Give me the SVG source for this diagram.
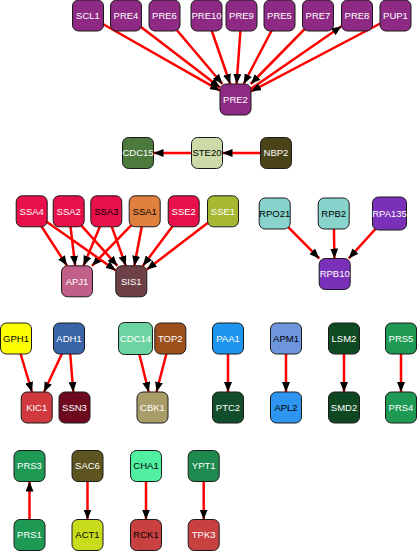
<svg xmlns="http://www.w3.org/2000/svg" width="417" height="551" viewBox="0 0 417 551">
<style>
.n rect{stroke:#1a1a1a;stroke-width:1}
.n text{font-family:"Liberation Sans",Arial,sans-serif;font-size:9.5px;text-anchor:middle;fill:#fff}
.n.dk text{fill:#000}
.e line{stroke:#ff0000;stroke-width:2.5;marker-end:url(#ah)}
</style>
<defs>
<marker id="ah" markerUnits="userSpaceOnUse" markerWidth="10" markerHeight="8" refX="10" refY="4" orient="auto"><path d="M0,0 L10,4 L0,8 z" fill="#000"/></marker>
</defs>
<rect width="417" height="551" fill="#fff"/>
<g id="edges" class="e">
<line x1="88" y1="15.5" x2="220" y2="90.7"/>
<line x1="126" y1="15.5" x2="220" y2="87.6"/>
<line x1="164.5" y1="15.5" x2="222.4" y2="84"/>
<line x1="206.5" y1="15.5" x2="230.2" y2="84"/>
<line x1="241.5" y1="15.5" x2="236.6" y2="84"/>
<line x1="279.5" y1="15.5" x2="243.6" y2="84"/>
<line x1="318" y1="15.5" x2="250.7" y2="84"/>
<line x1="235.5" y1="99.5" x2="341.5" y2="26.2"/>
<line x1="395.5" y1="15.5" x2="251" y2="91.4"/>
<line x1="276" y1="153" x2="222.5" y2="153"/>
<line x1="207" y1="153" x2="153.5" y2="153"/>
<line x1="31.7" y1="211.3" x2="67" y2="265.8"/>
<line x1="68.7" y1="211.3" x2="75.2" y2="265.8"/>
<line x1="106.3" y1="211.3" x2="83.5" y2="265.8"/>
<line x1="144.7" y1="211.3" x2="92" y2="265.8"/>
<line x1="31.7" y1="211.3" x2="115.8" y2="270.4"/>
<line x1="68.7" y1="211.3" x2="117.4" y2="265.8"/>
<line x1="106.3" y1="211.3" x2="125.8" y2="265.8"/>
<line x1="144.7" y1="211.3" x2="134.3" y2="265.8"/>
<line x1="183.7" y1="211.3" x2="142.9" y2="265.8"/>
<line x1="223" y1="211.3" x2="146.8" y2="269.5"/>
<line x1="274.7" y1="213.5" x2="319.3" y2="258.5"/>
<line x1="333.7" y1="213.5" x2="334.4" y2="258.5"/>
<line x1="389.5" y1="213.5" x2="348.7" y2="258.5"/>
<line x1="16" y1="338.5" x2="32" y2="392"/>
<line x1="69" y1="338.5" x2="44" y2="392"/>
<line x1="69" y1="338.5" x2="73.3" y2="392"/>
<line x1="135.5" y1="338.5" x2="148.7" y2="392"/>
<line x1="170.3" y1="338.5" x2="156.5" y2="392"/>
<line x1="228" y1="338.5" x2="228" y2="392"/>
<line x1="286" y1="338.5" x2="286" y2="392"/>
<line x1="344" y1="338.5" x2="344" y2="392"/>
<line x1="401" y1="338.5" x2="401" y2="392"/>
<line x1="29.5" y1="535" x2="29.5" y2="481.5"/>
<line x1="87.5" y1="466" x2="87.5" y2="519.5"/>
<line x1="146" y1="466" x2="146" y2="519.5"/>
<line x1="203.7" y1="466" x2="203.7" y2="519.5"/>
</g>
<g id="SCL1" class="n"><rect x="72.5" y="0" width="31" height="31" rx="6" fill="#8e2a84"/><text x="88" y="18.8">SCL1</text></g>
<g id="PRE4" class="n"><rect x="110.5" y="0" width="31" height="31" rx="6" fill="#8e2a84"/><text x="126" y="18.8">PRE4</text></g>
<g id="PRE6" class="n"><rect x="149" y="0" width="31" height="31" rx="6" fill="#8e2a84"/><text x="164.5" y="18.8">PRE6</text></g>
<g id="PRE10" class="n"><rect x="191" y="0" width="31" height="31" rx="6" fill="#8e2a84"/><text x="206.5" y="18.8">PRE10</text></g>
<g id="PRE9" class="n"><rect x="226" y="0" width="31" height="31" rx="6" fill="#8e2a84"/><text x="241.5" y="18.8">PRE9</text></g>
<g id="PRE5" class="n"><rect x="264" y="0" width="31" height="31" rx="6" fill="#8e2a84"/><text x="279.5" y="18.8">PRE5</text></g>
<g id="PRE7" class="n"><rect x="302.5" y="0" width="31" height="31" rx="6" fill="#8e2a84"/><text x="318" y="18.8">PRE7</text></g>
<g id="PRE8" class="n"><rect x="341.5" y="0" width="31" height="31" rx="6" fill="#8e2a84"/><text x="357" y="18.8">PRE8</text></g>
<g id="PUP1" class="n"><rect x="380" y="0" width="31" height="31" rx="6" fill="#8e2a84"/><text x="395.5" y="18.8">PUP1</text></g>
<g id="PRE2" class="n"><rect x="220" y="84" width="31" height="31" rx="6" fill="#8e2a84"/><text x="235.5" y="102.8">PRE2</text></g>
<g id="CDC15" class="n"><rect x="122.5" y="137.5" width="31" height="31" rx="6" fill="#4c7a3c"/><text x="138" y="156.3">CDC15</text></g>
<g id="STE20" class="n dk"><rect x="191.5" y="137.5" width="31" height="31" rx="6" fill="#ccdaa8"/><text x="207" y="156.3">STE20</text></g>
<g id="NBP2" class="n"><rect x="260.5" y="137.5" width="31" height="31" rx="6" fill="#4a4218"/><text x="276" y="156.3">NBP2</text></g>
<g id="SSA4" class="n"><rect x="16.2" y="195.8" width="31" height="31" rx="6" fill="#e8104a"/><text x="31.7" y="214.6">SSA4</text></g>
<g id="SSA2" class="n"><rect x="53.2" y="195.8" width="31" height="31" rx="6" fill="#e8104a"/><text x="68.7" y="214.6">SSA2</text></g>
<g id="SSA3" class="n dk"><rect x="90.8" y="195.8" width="31" height="31" rx="6" fill="#e8104a"/><text x="106.3" y="214.6">SSA3</text></g>
<g id="SSA1" class="n dk"><rect x="129.2" y="195.8" width="31" height="31" rx="6" fill="#e0803e"/><text x="144.7" y="214.6">SSA1</text></g>
<g id="SSE2" class="n"><rect x="168.2" y="195.8" width="31" height="31" rx="6" fill="#e8104a"/><text x="183.7" y="214.6">SSE2</text></g>
<g id="SSE1" class="n"><rect x="207.5" y="195.8" width="31" height="31" rx="6" fill="#a6b832"/><text x="223" y="214.6">SSE1</text></g>
<g id="APJ1" class="n"><rect x="61.5" y="265.8" width="31" height="31" rx="6" fill="#c06088"/><text x="77" y="284.6">APJ1</text></g>
<g id="SIS1" class="n"><rect x="115.8" y="265.8" width="31" height="31" rx="6" fill="#6e4048"/><text x="131.3" y="284.6">SIS1</text></g>
<g id="RPO21" class="n dk"><rect x="259.2" y="198" width="31" height="31" rx="6" fill="#88d4cc"/><text x="274.7" y="216.8">RPO21</text></g>
<g id="RPB2" class="n dk"><rect x="318.2" y="198" width="31" height="31" rx="6" fill="#88d4cc"/><text x="333.7" y="216.8">RPB2</text></g>
<g id="RPA135" class="n"><rect x="372.5" y="197" width="34" height="33" rx="6" fill="#7a30b8"/><text x="389.5" y="216.8">RPA135</text></g>
<g id="RPB10" class="n"><rect x="319.2" y="258.5" width="31" height="31" rx="6" fill="#7a30b8"/><text x="334.7" y="277.3">RPB10</text></g>
<g id="GPH1" class="n dk"><rect x="0.5" y="323" width="31" height="31" rx="6" fill="#ffff00"/><text x="16" y="341.8">GPH1</text></g>
<g id="ADH1" class="n"><rect x="53.5" y="323" width="31" height="31" rx="6" fill="#3a64a8"/><text x="69" y="341.8">ADH1</text></g>
<g id="CDC14" class="n"><rect x="118.5" y="322.5" width="34" height="32" rx="6" fill="#6cd4a0"/><text x="135.5" y="341.8">CDC14</text></g>
<g id="TOP2" class="n"><rect x="154.8" y="323" width="31" height="31" rx="6" fill="#9e501c"/><text x="170.3" y="341.8">TOP2</text></g>
<g id="KIC1" class="n"><rect x="21.2" y="392" width="31" height="31" rx="6" fill="#d03a3e"/><text x="36.7" y="410.8">KIC1</text></g>
<g id="SSN3" class="n"><rect x="59" y="392" width="31" height="31" rx="6" fill="#6e0a20"/><text x="74.5" y="410.8">SSN3</text></g>
<g id="CBK1" class="n"><rect x="137" y="392" width="31" height="31" rx="6" fill="#a89c68"/><text x="152.5" y="410.8">CBK1</text></g>
<g id="PAA1" class="n"><rect x="212.5" y="323" width="31" height="31" rx="6" fill="#1e96f0"/><text x="228" y="341.8">PAA1</text></g>
<g id="APM1" class="n dk"><rect x="270.5" y="323" width="31" height="31" rx="6" fill="#6e96dc"/><text x="286" y="341.8">APM1</text></g>
<g id="LSM2" class="n"><rect x="328.5" y="323" width="31" height="31" rx="6" fill="#0e4a22"/><text x="344" y="341.8">LSM2</text></g>
<g id="PRS5" class="n"><rect x="385.5" y="323" width="31" height="31" rx="6" fill="#1e9a54"/><text x="401" y="341.8">PRS5</text></g>
<g id="PTC2" class="n"><rect x="212.5" y="392" width="31" height="31" rx="6" fill="#124e2c"/><text x="228" y="410.8">PTC2</text></g>
<g id="APL2" class="n dk"><rect x="270.5" y="392" width="31" height="31" rx="6" fill="#2e96f0"/><text x="286" y="410.8">APL2</text></g>
<g id="SMD2" class="n"><rect x="328.5" y="392" width="31" height="31" rx="6" fill="#0e4822"/><text x="344" y="410.8">SMD2</text></g>
<g id="PRS4" class="n"><rect x="385.5" y="392" width="31" height="31" rx="6" fill="#1e9a54"/><text x="401" y="410.8">PRS4</text></g>
<g id="PRS3" class="n"><rect x="14" y="450.5" width="31" height="31" rx="6" fill="#1e9a54"/><text x="29.5" y="469.3">PRS3</text></g>
<g id="SAC6" class="n"><rect x="72" y="450.5" width="31" height="31" rx="6" fill="#5e5420"/><text x="87.5" y="469.3">SAC6</text></g>
<g id="CHA1" class="n dk"><rect x="130.5" y="450.5" width="31" height="31" rx="6" fill="#50f0a0"/><text x="146" y="469.3">CHA1</text></g>
<g id="YPT1" class="n"><rect x="188.2" y="450.5" width="31" height="31" rx="6" fill="#1e8a50"/><text x="203.7" y="469.3">YPT1</text></g>
<g id="PRS1" class="n"><rect x="14" y="519.5" width="31" height="31" rx="6" fill="#1e9a54"/><text x="29.5" y="538.3">PRS1</text></g>
<g id="ACT1" class="n dk"><rect x="72" y="519.5" width="31" height="31" rx="6" fill="#c8dc1c"/><text x="87.5" y="538.3">ACT1</text></g>
<g id="RCK1" class="n dk"><rect x="130.5" y="519.5" width="31" height="31" rx="6" fill="#c84040"/><text x="146" y="538.3">RCK1</text></g>
<g id="TPK3" class="n"><rect x="188.2" y="519.5" width="31" height="31" rx="6" fill="#c84040"/><text x="203.7" y="538.3">TPK3</text></g>
</svg>
